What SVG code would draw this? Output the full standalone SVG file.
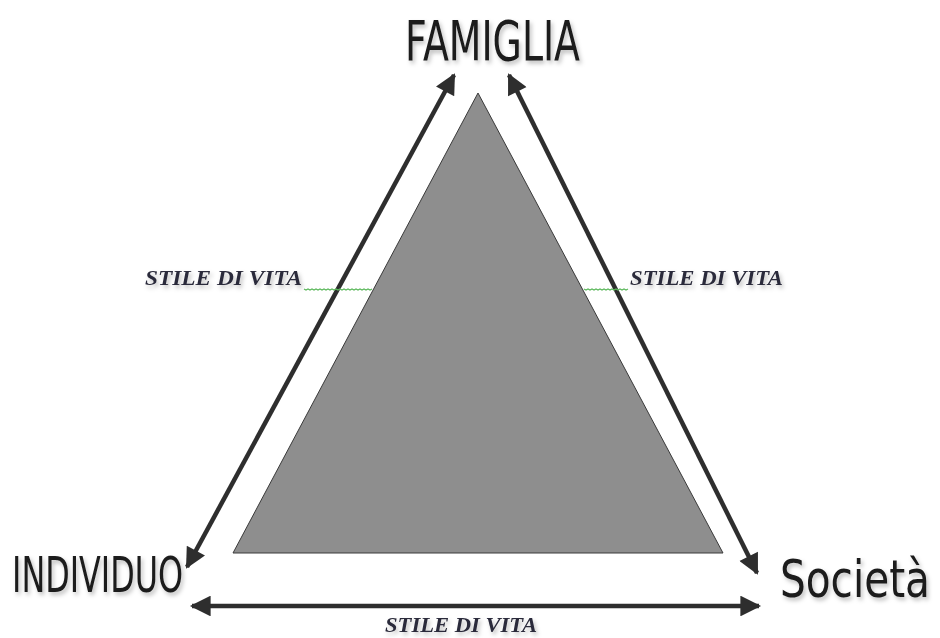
<svg xmlns="http://www.w3.org/2000/svg" width="940" height="638" viewBox="0 0 940 638">
<defs>
<style>
.arrow{stroke:#2e2e2e;stroke-width:4.5;fill:none;marker-start:url(#ah);marker-end:url(#ah)}
.title{font-family:"DejaVu Sans Condensed","DejaVu Sans",sans-serif;fill:#1a1a1a}
.stile{font-family:"Liberation Serif",serif;font-style:italic;font-weight:bold;fill:#2a2a3a;font-size:21px}
.squig{stroke:#5cb85c;stroke-width:1.2;fill:none}
</style>
<marker id="ah" viewBox="0 0 10 10" refX="9" refY="5" markerWidth="5.2" markerHeight="4.6" orient="auto-start-reverse" markerUnits="strokeWidth">
<path d="M0,0 L10,5 L0,10 Z" fill="#2e2e2e"/>
</marker>
<filter id="sh" x="-10%" y="-20%" width="130%" height="160%">
<feDropShadow dx="2" dy="3" stdDeviation="2" flood-color="#000" flood-opacity="0.25"/>
</filter>
</defs>
<rect width="940" height="638" fill="#ffffff"/>
<g id="triangle">
<polygon points="478,93 233,553 723,553" fill="#8e8e8e" stroke="#3a3a3a" stroke-width="1"/>
</g>
<g id="connectors">
<line class="arrow" x1="187" y1="567" x2="454" y2="75"/>
<line class="arrow" x1="509" y1="75" x2="757" y2="573"/>
<line class="arrow" x1="192" y1="606" x2="759" y2="606"/>
<path class="squig" d="M304,289 l2,1 l2,-1 l2,1 l2,-1 l2,1 l2,-1 l2,1 l2,-1 l2,1 l2,-1 l2,1 l2,-1 l2,1 l2,-1 l2,1 l2,-1 l2,1 l2,-1 l2,1 l2,-1 l2,1 l2,-1 l2,1 l2,-1 l2,1 l2,-1 l2,1 l2,-1 l2,1 l2,-1 l2,1 l2,-1 l2,1 l2,-1"/>
<path class="squig" d="M584,289 l2,1 l2,-1 l2,1 l2,-1 l2,1 l2,-1 l2,1 l2,-1 l2,1 l2,-1 l2,1 l2,-1 l2,1 l2,-1 l2,1 l2,-1 l2,1 l2,-1 l2,1 l2,-1 l2,1 l2,-1"/>
</g>
<g id="famiglia" filter="url(#sh)">
<text class="title" x="405" y="60" font-size="56" textLength="175" lengthAdjust="spacingAndGlyphs">FAMIGLIA</text>
</g>
<g id="individuo" filter="url(#sh)">
<text class="title" x="12" y="592" font-size="50" textLength="171" lengthAdjust="spacingAndGlyphs">INDIVIDUO</text>
</g>
<g id="societa" filter="url(#sh)">
<text class="title" transform="translate(780,597) scale(1,1.12)" x="0" y="0" font-size="46" textLength="150" lengthAdjust="spacingAndGlyphs">Società</text>
</g>
<g id="stile-left" filter="url(#sh)">
<text class="stile" x="145" y="285" textLength="157" lengthAdjust="spacingAndGlyphs">STILE DI VITA</text>
</g>
<g id="stile-right" filter="url(#sh)">
<text class="stile" x="630" y="285" textLength="153" lengthAdjust="spacingAndGlyphs">STILE DI VITA</text>
</g>
<g id="stile-bottom" filter="url(#sh)">
<text class="stile" x="385" y="632" textLength="152" lengthAdjust="spacingAndGlyphs">STILE DI VITA</text>
</g>
</svg>
